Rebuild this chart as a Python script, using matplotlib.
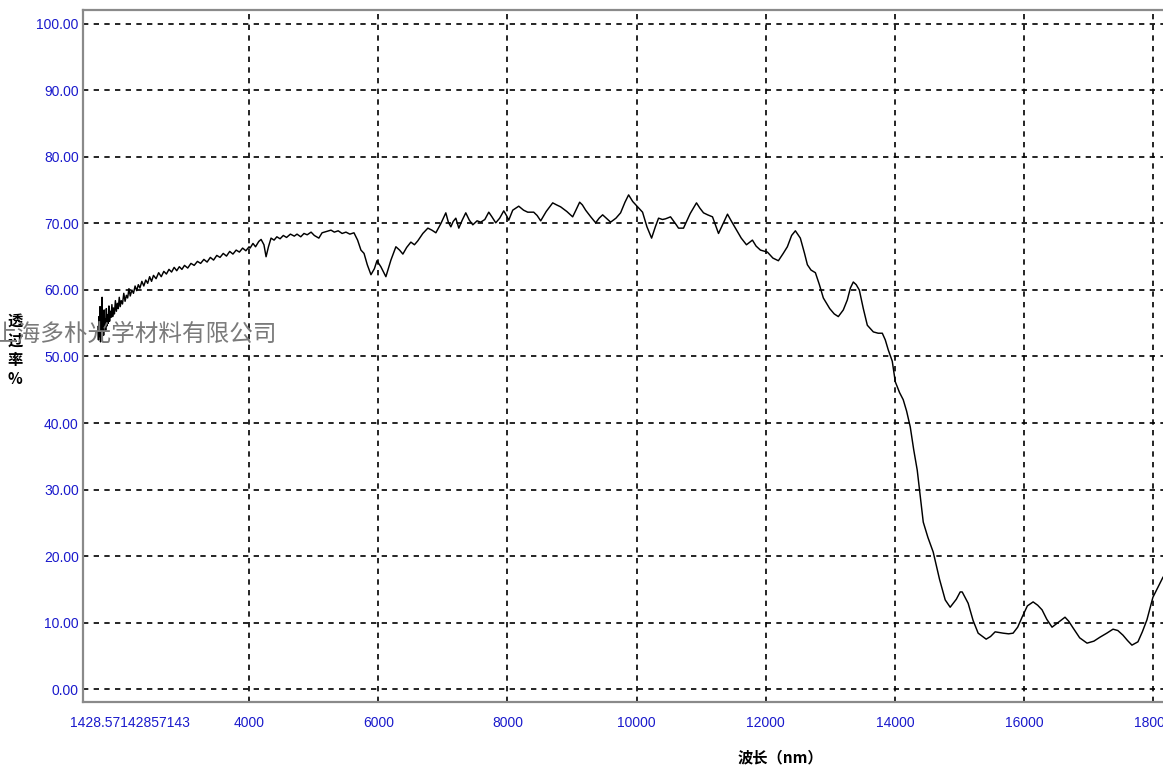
import matplotlib
matplotlib.use("Agg")
import matplotlib.pyplot as plt

plt.rcParams['font.family'] = ['Liberation Sans', 'Noto Sans CJK SC', 'DejaVu Sans']

# ---------------- data ----------------
wavelength = [
    1660, 1668, 1676, 1684, 1692, 1700, 1708, 1716, 1724, 1732, 1740, 1748, 1756,
    1764, 1772, 1780, 1790, 1800, 1810, 1820, 1830, 1840, 1852, 1864, 1876, 1888,
    1900, 1915, 1930, 1945, 1960, 1975, 1990, 2005, 2020, 2040, 2060, 2080, 2100,
    2120, 2140, 2160, 2185, 2210, 2235, 2260, 2285, 2310, 2340, 2370, 2400, 2430,
    2460, 2490,
    2520, 2560, 2600, 2640, 2680, 2720, 2760, 2800, 2840, 2880, 2920, 2960, 3000,
    3050, 3100, 3150, 3200, 3250, 3300, 3350, 3400, 3450, 3500, 3550, 3600, 3650,
    3700, 3750, 3800, 3850, 3900, 3950, 4000,
    4015, 4060, 4100, 4150, 4186, 4230, 4263, 4300, 4340, 4387, 4430, 4480, 4530,
    4580, 4640, 4700, 4742, 4800, 4850, 4900, 4960, 5010, 5080, 5130, 5200, 5268,
    5320, 5380, 5440, 5500, 5560, 5624, 5680, 5732, 5780, 5830, 5887, 5940, 5980,
    6040, 6118, 6196, 6273, 6330, 6381, 6440, 6505, 6560, 6613, 6690, 6768, 6830,
    6892, 6970, 7046, 7085, 7124, 7160, 7201, 7247, 7300, 7355, 7410, 7464, 7530,
    7587, 7650, 7711, 7760, 7819, 7880, 7943, 7985, 8020, 8082, 8175, 8250, 8314,
    8407, 8460, 8515, 8600, 8701, 8760, 8824, 8920, 9010, 9060, 9118, 9160, 9211,
    9290, 9366, 9420, 9474, 9530, 9598, 9680, 9752, 9820, 9876, 9940, 10015, 10092,
    10160, 10232, 10290, 10340, 10400, 10448, 10525, 10600, 10649, 10726, 10830,
    10927, 10980, 11036, 11100, 11175, 11268, 11340, 11407, 11470, 11530, 11620,
    11701, 11793, 11850, 11917, 12025, 12110, 12195, 12270, 12334, 12400, 12458,
    12535, 12600, 12644, 12700, 12768, 12830, 12891, 12990, 13060, 13123, 13200,
    13262, 13310, 13355, 13400, 13448, 13510, 13572, 13665, 13740, 13804, 13850,
    13896, 13958, 14005, 14070, 14128, 14180, 14237, 14290, 14345, 14438, 14510,
    14592, 14690, 14778, 14855, 14950, 15010, 15041, 15133, 15210, 15288, 15412,
    15480, 15551, 15675, 15760, 15829, 15900, 15968, 16050, 16139, 16210, 16278,
    16350, 16432, 16540, 16633, 16690, 16757, 16860, 16974, 17080, 17175, 17280,
    17376, 17450, 17530, 17600, 17669, 17762, 17830, 17901, 17994, 18149,
]
transmittance = [
    54.5, 52.5, 56.0, 53.0, 57.5, 52.2, 55.8, 53.8, 58.9, 54.0, 56.5, 53.2, 57.0,
    54.8, 55.6, 53.9, 57.2, 54.6, 56.3, 55.0, 57.6, 55.3, 56.8, 55.9, 57.8, 56.0,
    57.3, 56.4, 58.4, 56.8, 58.0, 57.2, 58.9, 57.5, 58.4, 57.9, 59.5, 58.3, 59.2,
    58.8, 60.2, 59.1, 60.0, 59.5, 60.6, 59.9, 60.8, 60.3, 61.3, 60.6, 61.5, 61.0,
    62.0, 61.3,
    62.2, 61.7, 62.6, 62.0, 62.8, 62.4, 63.1, 62.7, 63.4, 62.9, 63.5, 63.1, 63.7,
    63.3, 64.0, 63.7, 64.3, 64.0, 64.6, 64.2, 64.9, 64.5, 65.2, 64.9, 65.5, 65.1,
    65.8, 65.4, 66.0, 65.7, 66.3, 65.9, 66.5,
    66.3, 67.0, 66.5, 67.3, 67.6, 66.8, 65.0, 66.5, 67.8, 67.5, 68.0, 67.7, 68.2,
    67.9, 68.4, 68.1, 68.4, 68.0, 68.5, 68.3, 68.7, 68.2, 67.8, 68.6, 68.8, 69.0,
    68.7, 68.9, 68.5, 68.7, 68.4, 68.6, 67.5, 66.0, 65.5, 63.8, 62.3, 63.2, 64.4,
    63.5, 62.0, 64.5, 66.5, 66.0, 65.4, 66.4, 67.2, 66.8, 67.4, 68.5, 69.3, 69.0,
    68.6, 70.0, 71.6, 70.2, 69.5, 70.3, 70.8, 69.3, 70.5, 71.6, 70.5, 69.8, 70.4,
    70.2, 70.6, 71.7, 71.0, 70.1, 70.8, 71.9, 71.2, 70.5, 72.0, 72.6, 72.0, 71.7,
    71.7, 71.2, 70.4, 71.8, 73.1, 72.8, 72.5, 71.8, 71.0, 72.0, 73.2, 72.8, 72.0,
    71.0, 70.1, 70.8, 71.3, 70.8, 70.2, 70.8, 71.6, 73.2, 74.3, 73.3, 72.5, 71.7,
    69.5, 67.8, 69.5, 70.8, 70.6, 70.7, 71.0, 70.0, 69.3, 69.3, 71.5,
    73.1, 72.3, 71.6, 71.3, 71.0, 68.5, 70.0, 71.4, 70.3, 69.3, 67.8,
    66.8, 67.5, 66.6, 66.0, 65.7, 64.8, 64.4, 65.5, 66.5, 68.2, 68.9,
    67.8, 65.5, 63.8, 63.0, 62.6, 60.8, 58.8, 57.2, 56.4, 56.0, 57.0,
    58.5, 60.3, 61.2, 60.8, 60.0, 57.2, 54.7, 53.7, 53.5, 53.5, 52.5,
    51.0, 49.3, 46.2, 44.6, 43.5, 41.8, 39.4, 36.0, 32.9, 25.1, 22.8,
    20.6, 16.5, 13.4, 12.3, 13.5, 14.6, 14.6, 12.9, 10.3, 8.4, 7.5,
    7.9, 8.6, 8.4, 8.3, 8.4, 9.3, 10.8, 12.5, 13.1, 12.6, 11.9,
    10.5, 9.3, 10.1, 10.8, 10.2, 9.2, 7.7, 6.9, 7.2, 7.8, 8.4,
    9.0, 8.8, 8.1, 7.3, 6.6, 7.1, 8.6, 10.4, 13.8, 16.8,
]

x_start = 1428.57142857143
x_end = 18150
x_start_label = "1428.57142857143"
x_ticks = [4000, 6000, 8000, 10000, 12000, 14000, 16000, 18000]
x_tick_labels = ["4000", "6000", "8000", "10000", "12000", "14000", "16000", "18000"]
y_ticks = [0, 10, 20, 30, 40, 50, 60, 70, 80, 90, 100]
x_label = "波长（nm）"
y_label = "透\n过\n率\n%"
watermark = "上海多朴光学材料有限公司"

# ---------------- figure ----------------
W, H = 1163, 773
fig = plt.figure(figsize=(W / 100, H / 100), dpi=100)
ax = fig.add_axes([83 / W, 71 / H, 1 - 83 / W, (702 - 10) / H])

ax.set_xlim(x_start, x_end)
ax.set_ylim(-1.95, 102.1)

grid_kw = dict(color='black', linewidth=1.2, linestyle=(0, (3.2, 3.2)), zorder=1)
for yt in y_ticks:
    ax.axhline(yt, **grid_kw)
for xt in x_ticks:
    ax.axvline(xt, **grid_kw)

ax.plot(wavelength, transmittance, color='black', linewidth=1.05, zorder=4)

ax.set_yticks(y_ticks)
ax.set_yticklabels([f"{v:.2f}" for v in y_ticks])
ax.set_xticks(x_ticks)
ax.set_xticklabels(x_tick_labels)
ax.tick_params(axis='both', length=0, labelcolor='#1a1acc', labelsize=10)
ax.tick_params(axis='y', pad=3)
ax.tick_params(axis='x', pad=10)

ax.annotate(x_start_label, xy=(x_start, 0), xycoords=('data', 'axes fraction'),
            xytext=(-13, -21), textcoords='offset pixels', ha='left', va='center',
            color='#1a1acc', fontsize=10)

for side in ['left', 'top', 'bottom']:
    ax.spines[side].set_color('#8a8a8a')
    ax.spines[side].set_linewidth(1.6)
ax.spines['right'].set_visible(False)

fig.text(780 / W, 1 - 757 / H, x_label, ha='center', va='center',
         fontsize=11, fontweight='bold', family=['Noto Sans CJK SC', 'DejaVu Sans'])
fig.text(15 / W, 1 - 350 / H, y_label, ha='center', va='center',
         fontsize=11, fontweight='bold', linespacing=1.25,
         family=['Noto Sans CJK SC', 'DejaVu Sans'])
fig.text(-6 / W, 1 - 334 / H, watermark, ha='left', va='center',
         fontsize=17, color='#7a7a7a', style='italic', zorder=3,
         family=['Noto Sans CJK SC', 'DejaVu Sans'])

fig.savefig("out.png", dpi=100)
